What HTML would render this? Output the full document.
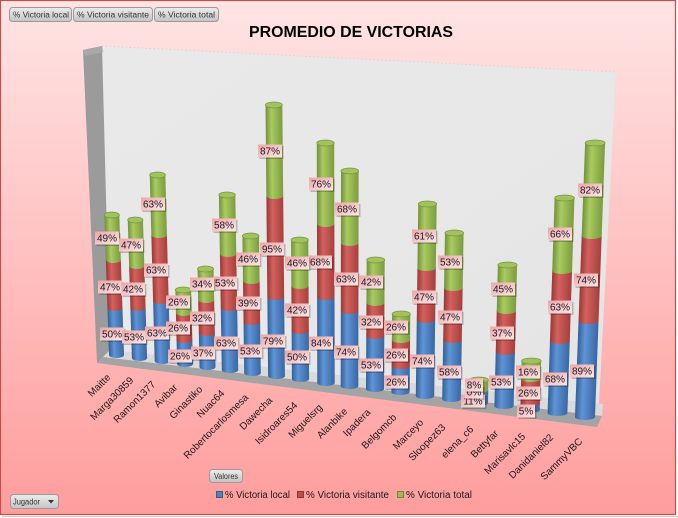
<!DOCTYPE html>
<html><head><meta charset="utf-8"><style>
html,body{margin:0;padding:0;background:#fff;}
svg{display:block;}
.b{fill:url(#gb)}.r{fill:url(#gr)}.g{fill:url(#gg)}
.t{fill:#a2c25d;stroke:#7a9640;stroke-width:0.8}
.lb{fill:url(#gl)}.sh{fill:#000;opacity:.22}
text{font-family:"Liberation Sans",Arial,sans-serif;}
.l{font-size:10px;fill:#1a1a28;text-anchor:middle}
.c{font-size:10px;fill:#1a1a1a;text-anchor:end}
.btn{fill:url(#gbtn);stroke:#9a9a9a;stroke-width:1}
.bt{font-size:8px;fill:#333}
.lg{font-size:10px;fill:#1a1a1a}
</style></head><body>
<svg width="678" height="518" viewBox="0 0 678 518" xmlns="http://www.w3.org/2000/svg">
<defs>
<linearGradient id="bg" x1="0" y1="0" x2="0" y2="1"><stop offset="0" stop-color="#ffe4e4"/><stop offset="1" stop-color="#ff9d9d"/></linearGradient>
<linearGradient id="gb" x1="0" y1="0" x2="1" y2="0"><stop offset="0" stop-color="#33609a"/><stop offset="0.35" stop-color="#5f94d6"/><stop offset="1" stop-color="#3a67a3"/></linearGradient>
<linearGradient id="gr" x1="0" y1="0" x2="1" y2="0"><stop offset="0" stop-color="#9b3835"/><stop offset="0.35" stop-color="#d2625e"/><stop offset="1" stop-color="#a63f3c"/></linearGradient>
<linearGradient id="gg" x1="0" y1="0" x2="1" y2="0"><stop offset="0" stop-color="#74913a"/><stop offset="0.35" stop-color="#a9cb60"/><stop offset="1" stop-color="#7c9b3f"/></linearGradient>
<linearGradient id="gl" x1="0" y1="0" x2="1" y2="1"><stop offset="0" stop-color="#eca5a5"/><stop offset="1" stop-color="#fde7e7"/></linearGradient>
<linearGradient id="gbtn" x1="0" y1="0" x2="0" y2="1"><stop offset="0" stop-color="#ececec"/><stop offset="1" stop-color="#c4c4c4"/></linearGradient>
<linearGradient id="gw" x1="0" y1="0" x2="1" y2="1"><stop offset="0" stop-color="#e9e9e9"/><stop offset="0.5" stop-color="#e8e8e8"/><stop offset="1" stop-color="#e4e4e4"/></linearGradient>
</defs>
<rect x="0" y="0" width="678" height="518" fill="#ffffff"/>
<line x1="2" y1="516.5" x2="678" y2="516.5" stroke="#cfcfcf" stroke-width="1.5"/>
<rect x="0.5" y="0.5" width="675" height="514" fill="url(#bg)" stroke="#c0504d" stroke-width="1.2"/>

<!-- title -->
<text x="249" y="37" font-size="16" font-weight="bold" fill="#000" textLength="204" lengthAdjust="spacingAndGlyphs">PROMEDIO DE VICTORIAS</text>

<!-- top buttons -->
<rect class="btn" x="9.5" y="7.5" width="62" height="14" rx="3"/>
<text class="bt" x="13" y="17.5" textLength="56" lengthAdjust="spacingAndGlyphs">% Victoria local</text>
<rect class="btn" x="73.5" y="7.5" width="79" height="14" rx="3"/>
<text class="bt" x="77" y="17.5" textLength="72" lengthAdjust="spacingAndGlyphs">% Victoria visitante</text>
<rect class="btn" x="154.5" y="7.5" width="64" height="14" rx="3"/>
<text class="bt" x="158" y="17.5" textLength="57" lengthAdjust="spacingAndGlyphs">% Victoria total</text>

<!-- walls and floor -->
<polygon points="102,46 616,72 599,404 110,350" fill="url(#gw)"/>
<polyline points="102,46 616,72" fill="none" stroke="#c8c8c8" stroke-width="0.8" stroke-dasharray="1,3"/>
<polygon points="83,50 102,46 110,350 103,357 97,363" fill="#9b9b9b"/>
<polygon points="83,50 102,46 103,52 85,56" fill="#a9a9a9"/>
<polygon points="110,350 603,404 602,416 103,357" fill="#dadada"/>
<polygon points="103,357 602,416 597,427 97,363" fill="#a4a4a4"/>

<!-- bars -->
<g transform="translate(116.5,355) skewX(1.92)"><rect class="b" x="-7.5" y="-47" width="15" height="47"/><ellipse class="b" rx="7.5" ry="3"/><rect class="r" x="-7.5" y="-95" width="15" height="48"/><ellipse class="r" cy="-47" rx="7.5" ry="3"/><rect class="g" x="-7.5" y="-140" width="15" height="45"/><ellipse class="g" cy="-95" rx="7.5" ry="3"/><ellipse class="t" cy="-140" rx="7.5" ry="3"/></g>
<g transform="translate(139.5,358) skewX(1.72)"><rect class="b" x="-7.6" y="-50" width="15.2" height="50"/><ellipse class="b" rx="7.6" ry="3"/><rect class="r" x="-7.6" y="-92" width="15.2" height="42"/><ellipse class="r" cy="-50" rx="7.6" ry="3"/><rect class="g" x="-7.6" y="-138" width="15.2" height="46"/><ellipse class="g" cy="-92" rx="7.6" ry="3"/><ellipse class="t" cy="-138" rx="7.6" ry="3"/></g>
<g transform="translate(162.5,361) skewX(1.53)"><rect class="b" x="-7.8" y="-60" width="15.6" height="60"/><ellipse class="b" rx="7.8" ry="3"/><rect class="r" x="-7.8" y="-126" width="15.6" height="66"/><ellipse class="r" cy="-60" rx="7.8" ry="3"/><rect class="g" x="-7.8" y="-186" width="15.6" height="60"/><ellipse class="g" cy="-126" rx="7.8" ry="3"/><ellipse class="t" cy="-186" rx="7.8" ry="3"/></g>
<g transform="translate(185,364) skewX(1.33)"><rect class="b" x="-7.9" y="-24" width="15.8" height="24"/><ellipse class="b" rx="7.9" ry="3"/><rect class="r" x="-7.9" y="-51" width="15.8" height="27"/><ellipse class="r" cy="-24" rx="7.9" ry="3"/><rect class="g" x="-7.9" y="-74" width="15.8" height="23"/><ellipse class="g" cy="-51" rx="7.9" ry="3"/><ellipse class="t" cy="-74" rx="7.9" ry="3"/></g>
<g transform="translate(207.5,367) skewX(1.14)"><rect class="b" x="-8" y="-34" width="16" height="34"/><ellipse class="b" rx="8" ry="3"/><rect class="r" x="-8" y="-67" width="16" height="33"/><ellipse class="r" cy="-34" rx="8" ry="3"/><rect class="g" x="-8" y="-98" width="16" height="31"/><ellipse class="g" cy="-67" rx="8" ry="3"/><ellipse class="t" cy="-98" rx="8" ry="3"/></g>
<g transform="translate(230,370) skewX(0.95)"><rect class="b" x="-8.2" y="-62" width="16.4" height="62"/><ellipse class="b" rx="8.2" ry="3"/><rect class="r" x="-8.2" y="-116" width="16.4" height="54"/><ellipse class="r" cy="-62" rx="8.2" ry="3"/><rect class="g" x="-8.2" y="-175" width="16.4" height="59"/><ellipse class="g" cy="-116" rx="8.2" ry="3"/><ellipse class="t" cy="-175" rx="8.2" ry="3"/></g>
<g transform="translate(252.5,373) skewX(0.75)"><rect class="b" x="-8.3" y="-51" width="16.6" height="51"/><ellipse class="b" rx="8.3" ry="3"/><rect class="r" x="-8.3" y="-92" width="16.6" height="41"/><ellipse class="r" cy="-51" rx="8.3" ry="3"/><rect class="g" x="-8.3" y="-137" width="16.6" height="45"/><ellipse class="g" cy="-92" rx="8.3" ry="3"/><ellipse class="t" cy="-137" rx="8.3" ry="3"/></g>
<g transform="translate(276.5,376) skewX(0.55)"><rect class="b" x="-8.4" y="-79" width="16.8" height="79"/><ellipse class="b" rx="8.4" ry="3"/><rect class="r" x="-8.4" y="-180" width="16.8" height="101"/><ellipse class="r" cy="-79" rx="8.4" ry="3"/><rect class="g" x="-8.4" y="-271" width="16.8" height="91"/><ellipse class="g" cy="-180" rx="8.4" ry="3"/><ellipse class="t" cy="-271" rx="8.4" ry="3"/></g>
<g transform="translate(300.5,379) skewX(0.34)"><rect class="b" x="-8.6" y="-48" width="17.2" height="48"/><ellipse class="b" rx="8.6" ry="3"/><rect class="r" x="-8.6" y="-93" width="17.2" height="45"/><ellipse class="r" cy="-48" rx="8.6" ry="3"/><rect class="g" x="-8.6" y="-139" width="17.2" height="46"/><ellipse class="g" cy="-93" rx="8.6" ry="3"/><ellipse class="t" cy="-139" rx="8.6" ry="3"/></g>
<g transform="translate(326,383) skewX(0.12)"><rect class="b" x="-8.7" y="-86" width="17.4" height="86"/><ellipse class="b" rx="8.7" ry="3"/><rect class="r" x="-8.7" y="-159" width="17.4" height="73"/><ellipse class="r" cy="-86" rx="8.7" ry="3"/><rect class="g" x="-8.7" y="-240" width="17.4" height="81"/><ellipse class="g" cy="-159" rx="8.7" ry="3"/><ellipse class="t" cy="-240" rx="8.7" ry="3"/></g>
<g transform="translate(349.5,386) skewX(-0.08)"><rect class="b" x="-8.8" y="-75" width="17.6" height="75"/><ellipse class="b" rx="8.8" ry="3"/><rect class="r" x="-8.8" y="-143" width="17.6" height="68"/><ellipse class="r" cy="-75" rx="8.8" ry="3"/><rect class="g" x="-8.8" y="-215" width="17.6" height="72"/><ellipse class="g" cy="-143" rx="8.8" ry="3"/><ellipse class="t" cy="-215" rx="8.8" ry="3"/></g>
<g transform="translate(375,389) skewX(-0.30)"><rect class="b" x="-9" y="-53" width="18" height="53"/><ellipse class="b" rx="9" ry="3"/><rect class="r" x="-9" y="-86" width="18" height="33"/><ellipse class="r" cy="-53" rx="9" ry="3"/><rect class="g" x="-9" y="-129" width="18" height="43"/><ellipse class="g" cy="-86" rx="9" ry="3"/><ellipse class="t" cy="-129" rx="9" ry="3"/></g>
<g transform="translate(400.5,392) skewX(-0.52)"><rect class="b" x="-9.1" y="-26" width="18.2" height="26"/><ellipse class="b" rx="9.1" ry="3"/><rect class="r" x="-9.1" y="-52" width="18.2" height="26"/><ellipse class="r" cy="-26" rx="9.1" ry="3"/><rect class="g" x="-9.1" y="-78" width="18.2" height="26"/><ellipse class="g" cy="-52" rx="9.1" ry="3"/><ellipse class="t" cy="-78" rx="9.1" ry="3"/></g>
<g transform="translate(425,396) skewX(-0.73)"><rect class="b" x="-9.2" y="-76" width="18.4" height="76"/><ellipse class="b" rx="9.2" ry="3"/><rect class="r" x="-9.2" y="-128" width="18.4" height="52"/><ellipse class="r" cy="-76" rx="9.2" ry="3"/><rect class="g" x="-9.2" y="-192" width="18.4" height="64"/><ellipse class="g" cy="-128" rx="9.2" ry="3"/><ellipse class="t" cy="-192" rx="9.2" ry="3"/></g>
<g transform="translate(451.5,399) skewX(-0.96)"><rect class="b" x="-9.3" y="-59" width="18.6" height="59"/><ellipse class="b" rx="9.3" ry="3"/><rect class="r" x="-9.3" y="-111" width="18.6" height="52"/><ellipse class="r" cy="-59" rx="9.3" ry="3"/><rect class="g" x="-9.3" y="-166" width="18.6" height="55"/><ellipse class="g" cy="-111" rx="9.3" ry="3"/><ellipse class="t" cy="-166" rx="9.3" ry="3"/></g>
<g transform="translate(478.5,403) skewX(-1.19)"><rect class="b" x="-9.5" y="-13" width="19" height="13"/><ellipse class="b" rx="9.5" ry="3"/><rect class="g" x="-9.5" y="-23" width="19" height="10"/><ellipse class="g" cy="-13" rx="9.5" ry="3"/><ellipse class="t" cy="-23" rx="9.5" ry="3"/></g>
<g transform="translate(504,406) skewX(-1.41)"><rect class="b" x="-9.6" y="-54" width="19.2" height="54"/><ellipse class="b" rx="9.6" ry="3"/><rect class="r" x="-9.6" y="-95" width="19.2" height="41"/><ellipse class="r" cy="-54" rx="9.6" ry="3"/><rect class="g" x="-9.6" y="-141" width="19.2" height="46"/><ellipse class="g" cy="-95" rx="9.6" ry="3"/><ellipse class="t" cy="-141" rx="9.6" ry="3"/></g>
<g transform="translate(530,410) skewX(-1.63)"><rect class="b" x="-9.7" y="-7" width="19.4" height="7"/><ellipse class="b" rx="9.7" ry="3"/><rect class="r" x="-9.7" y="-31" width="19.4" height="24"/><ellipse class="r" cy="-7" rx="9.7" ry="3"/><rect class="g" x="-9.7" y="-49" width="19.4" height="18"/><ellipse class="g" cy="-31" rx="9.7" ry="3"/><ellipse class="t" cy="-49" rx="9.7" ry="3"/></g>
<g transform="translate(557.5,413) skewX(-1.87)"><rect class="b" x="-9.9" y="-72" width="19.8" height="72"/><ellipse class="b" rx="9.9" ry="3"/><rect class="r" x="-9.9" y="-142" width="19.8" height="70"/><ellipse class="r" cy="-72" rx="9.9" ry="3"/><rect class="g" x="-9.9" y="-215" width="19.8" height="73"/><ellipse class="g" cy="-142" rx="9.9" ry="3"/><ellipse class="t" cy="-215" rx="9.9" ry="3"/></g>
<g transform="translate(585,417) skewX(-2.11)"><rect class="b" x="-10" y="-96" width="20" height="96"/><ellipse class="b" rx="10" ry="3"/><rect class="r" x="-10" y="-181" width="20" height="85"/><ellipse class="r" cy="-96" rx="10" ry="3"/><rect class="g" x="-10" y="-274" width="20" height="93"/><ellipse class="g" cy="-181" rx="10" ry="3"/><ellipse class="t" cy="-274" rx="10" ry="3"/></g>

<!-- data labels: blue series -->
<g><rect class="sh" x="101.5" y="329" width="24" height="13"/><rect class="lb" x="100" y="327.5" width="24" height="13"/><text class="l" x="112" y="337.5">50%</text></g>
<g><rect class="sh" x="123.5" y="332" width="24" height="13"/><rect class="lb" x="122" y="330.5" width="24" height="13"/><text class="l" x="134" y="340.5">53%</text></g>
<g><rect class="sh" x="146.5" y="328" width="24" height="13"/><rect class="lb" x="145" y="326.5" width="24" height="13"/><text class="l" x="157" y="336.5">63%</text></g>
<g><rect class="sh" x="169.5" y="351" width="24" height="13"/><rect class="lb" x="168" y="349.5" width="24" height="13"/><text class="l" x="180" y="359.5">26%</text></g>
<g><rect class="sh" x="192.5" y="348" width="24" height="13"/><rect class="lb" x="191" y="346.5" width="24" height="13"/><text class="l" x="203" y="356.5">37%</text></g>
<g><rect class="sh" x="215.5" y="338" width="24" height="13"/><rect class="lb" x="214" y="336.5" width="24" height="13"/><text class="l" x="226" y="346.5">63%</text></g>
<g><rect class="sh" x="239.5" y="346" width="24" height="13"/><rect class="lb" x="238" y="344.5" width="24" height="13"/><text class="l" x="250" y="354.5">53%</text></g>
<g><rect class="sh" x="262.5" y="336" width="24" height="13"/><rect class="lb" x="261" y="334.5" width="24" height="13"/><text class="l" x="273" y="344.5">79%</text></g>
<g><rect class="sh" x="286.5" y="352" width="24" height="13"/><rect class="lb" x="285" y="350.5" width="24" height="13"/><text class="l" x="297" y="360.5">50%</text></g>
<g><rect class="sh" x="310.5" y="338" width="24" height="13"/><rect class="lb" x="309" y="336.5" width="24" height="13"/><text class="l" x="321" y="346.5">84%</text></g>
<g><rect class="sh" x="335.5" y="347" width="24" height="13"/><rect class="lb" x="334" y="345.5" width="24" height="13"/><text class="l" x="346" y="355.5">74%</text></g>
<g><rect class="sh" x="360.5" y="360" width="24" height="13"/><rect class="lb" x="359" y="358.5" width="24" height="13"/><text class="l" x="371" y="368.5">53%</text></g>
<g><rect class="sh" x="385.5" y="377" width="24" height="13"/><rect class="lb" x="384" y="375.5" width="24" height="13"/><text class="l" x="396" y="385.5">26%</text></g>
<g><rect class="sh" x="411.5" y="356" width="24" height="13"/><rect class="lb" x="410" y="354.5" width="24" height="13"/><text class="l" x="422" y="364.5">74%</text></g>
<g><rect class="sh" x="438.5" y="367" width="24" height="13"/><rect class="lb" x="437" y="365.5" width="24" height="13"/><text class="l" x="449" y="375.5">58%</text></g>
<g><rect class="sh" x="462.5" y="396" width="24" height="13"/><rect class="lb" x="461" y="394.5" width="24" height="13"/><text class="l" x="473" y="404.5">11%</text></g>
<g><rect class="sh" x="490.5" y="377" width="24" height="13"/><rect class="lb" x="489" y="375.5" width="24" height="13"/><text class="l" x="501" y="385.5">53%</text></g>
<g><rect class="sh" x="518.5" y="406" width="18" height="13"/><rect class="lb" x="517" y="404.5" width="18" height="13"/><text class="l" x="526" y="414.5">5%</text></g>
<g><rect class="sh" x="544.5" y="374" width="24" height="13"/><rect class="lb" x="543" y="372.5" width="24" height="13"/><text class="l" x="555" y="382.5">68%</text></g>
<g><rect class="sh" x="571.5" y="366" width="24" height="13"/><rect class="lb" x="570" y="364.5" width="24" height="13"/><text class="l" x="582" y="374.5">89%</text></g>

<!-- data labels: red series -->
<g><rect class="sh" x="99.5" y="282" width="24" height="13"/><rect class="lb" x="98" y="280.5" width="24" height="13"/><text class="l" x="110" y="290.5">47%</text></g>
<g><rect class="sh" x="122.5" y="284" width="24" height="13"/><rect class="lb" x="121" y="282.5" width="24" height="13"/><text class="l" x="133" y="292.5">42%</text></g>
<g><rect class="sh" x="145.5" y="265" width="24" height="13"/><rect class="lb" x="144" y="263.5" width="24" height="13"/><text class="l" x="156" y="273.5">63%</text></g>
<g><rect class="sh" x="167.5" y="323" width="24" height="13"/><rect class="lb" x="166" y="321.5" width="24" height="13"/><text class="l" x="178" y="331.5">26%</text></g>
<g><rect class="sh" x="191.5" y="313" width="24" height="13"/><rect class="lb" x="190" y="311.5" width="24" height="13"/><text class="l" x="202" y="321.5">32%</text></g>
<g><rect class="sh" x="214.5" y="278" width="24" height="13"/><rect class="lb" x="213" y="276.5" width="24" height="13"/><text class="l" x="225" y="286.5">53%</text></g>
<g><rect class="sh" x="237.5" y="298" width="24" height="13"/><rect class="lb" x="236" y="296.5" width="24" height="13"/><text class="l" x="248" y="306.5">39%</text></g>
<g><rect class="sh" x="261.5" y="244" width="24" height="13"/><rect class="lb" x="260" y="242.5" width="24" height="13"/><text class="l" x="272" y="252.5">95%</text></g>
<g><rect class="sh" x="286.5" y="305" width="24" height="13"/><rect class="lb" x="285" y="303.5" width="24" height="13"/><text class="l" x="297" y="313.5">42%</text></g>
<g><rect class="sh" x="309.5" y="257" width="24" height="13"/><rect class="lb" x="308" y="255.5" width="24" height="13"/><text class="l" x="320" y="265.5">68%</text></g>
<g><rect class="sh" x="335.5" y="274" width="24" height="13"/><rect class="lb" x="334" y="272.5" width="24" height="13"/><text class="l" x="346" y="282.5">63%</text></g>
<g><rect class="sh" x="360.5" y="317" width="24" height="13"/><rect class="lb" x="359" y="315.5" width="24" height="13"/><text class="l" x="371" y="325.5">32%</text></g>
<g><rect class="sh" x="385.5" y="350" width="24" height="13"/><rect class="lb" x="384" y="348.5" width="24" height="13"/><text class="l" x="396" y="358.5">26%</text></g>
<g><rect class="sh" x="413.5" y="292" width="24" height="13"/><rect class="lb" x="412" y="290.5" width="24" height="13"/><text class="l" x="424" y="300.5">47%</text></g>
<g><rect class="sh" x="439.5" y="312" width="24" height="13"/><rect class="lb" x="438" y="310.5" width="24" height="13"/><text class="l" x="450" y="320.5">47%</text></g>
<g><rect class="sh" x="466.5" y="387" width="18" height="13"/><rect class="lb" x="465" y="385.5" width="18" height="13"/><text class="l" x="474" y="395.5">0%</text></g>
<g><rect class="sh" x="491.5" y="328" width="24" height="13"/><rect class="lb" x="490" y="326.5" width="24" height="13"/><text class="l" x="502" y="336.5">37%</text></g>
<g><rect class="sh" x="517.5" y="388" width="24" height="13"/><rect class="lb" x="516" y="386.5" width="24" height="13"/><text class="l" x="528" y="396.5">26%</text></g>
<g><rect class="sh" x="549.5" y="302" width="24" height="13"/><rect class="lb" x="548" y="300.5" width="24" height="13"/><text class="l" x="560" y="310.5">63%</text></g>
<g><rect class="sh" x="575.5" y="275" width="24" height="13"/><rect class="lb" x="574" y="273.5" width="24" height="13"/><text class="l" x="586" y="283.5">74%</text></g>

<!-- data labels: green series -->
<g><rect class="sh" x="96.5" y="233" width="24" height="13"/><rect class="lb" x="95" y="231.5" width="24" height="13"/><text class="l" x="107" y="241.5">49%</text></g>
<g><rect class="sh" x="120.5" y="240" width="24" height="13"/><rect class="lb" x="119" y="238.5" width="24" height="13"/><text class="l" x="131" y="248.5">47%</text></g>
<g><rect class="sh" x="142.5" y="199" width="24" height="13"/><rect class="lb" x="141" y="197.5" width="24" height="13"/><text class="l" x="153" y="207.5">63%</text></g>
<g><rect class="sh" x="167.5" y="297" width="24" height="13"/><rect class="lb" x="166" y="295.5" width="24" height="13"/><text class="l" x="178" y="305.5">26%</text></g>
<g><rect class="sh" x="191.5" y="279" width="24" height="13"/><rect class="lb" x="190" y="277.5" width="24" height="13"/><text class="l" x="202" y="287.5">34%</text></g>
<g><rect class="sh" x="213.5" y="220" width="24" height="13"/><rect class="lb" x="212" y="218.5" width="24" height="13"/><text class="l" x="224" y="228.5">58%</text></g>
<g><rect class="sh" x="237.5" y="254" width="24" height="13"/><rect class="lb" x="236" y="252.5" width="24" height="13"/><text class="l" x="248" y="262.5">46%</text></g>
<g><rect class="sh" x="259.5" y="146" width="24" height="13"/><rect class="lb" x="258" y="144.5" width="24" height="13"/><text class="l" x="270" y="154.5">87%</text></g>
<g><rect class="sh" x="286.5" y="258" width="24" height="13"/><rect class="lb" x="285" y="256.5" width="24" height="13"/><text class="l" x="297" y="266.5">46%</text></g>
<g><rect class="sh" x="310.5" y="179" width="24" height="13"/><rect class="lb" x="309" y="177.5" width="24" height="13"/><text class="l" x="321" y="187.5">76%</text></g>
<g><rect class="sh" x="336.5" y="204" width="24" height="13"/><rect class="lb" x="335" y="202.5" width="24" height="13"/><text class="l" x="347" y="212.5">68%</text></g>
<g><rect class="sh" x="360.5" y="277" width="24" height="13"/><rect class="lb" x="359" y="275.5" width="24" height="13"/><text class="l" x="371" y="285.5">42%</text></g>
<g><rect class="sh" x="385.5" y="322" width="24" height="13"/><rect class="lb" x="384" y="320.5" width="24" height="13"/><text class="l" x="396" y="330.5">26%</text></g>
<g><rect class="sh" x="413.5" y="231" width="24" height="13"/><rect class="lb" x="412" y="229.5" width="24" height="13"/><text class="l" x="424" y="239.5">61%</text></g>
<g><rect class="sh" x="439.5" y="257" width="24" height="13"/><rect class="lb" x="438" y="255.5" width="24" height="13"/><text class="l" x="450" y="265.5">53%</text></g>
<g><rect class="sh" x="466.5" y="380" width="18" height="13"/><rect class="lb" x="465" y="378.5" width="18" height="13"/><text class="l" x="474" y="388.5">8%</text></g>
<g><rect class="sh" x="492.5" y="284" width="24" height="13"/><rect class="lb" x="491" y="282.5" width="24" height="13"/><text class="l" x="503" y="292.5">45%</text></g>
<g><rect class="sh" x="517.5" y="367" width="24" height="13"/><rect class="lb" x="516" y="365.5" width="24" height="13"/><text class="l" x="528" y="375.5">16%</text></g>
<g><rect class="sh" x="549.5" y="229" width="24" height="13"/><rect class="lb" x="548" y="227.5" width="24" height="13"/><text class="l" x="560" y="237.5">66%</text></g>
<g><rect class="sh" x="579.5" y="185" width="24" height="13"/><rect class="lb" x="578" y="183.5" width="24" height="13"/><text class="l" x="590" y="193.5">82%</text></g>

<!-- category labels -->
<text class="c" transform="translate(111,378) rotate(-45)">Maitte</text>
<text class="c" transform="translate(134,381) rotate(-45)">Marga30859</text>
<text class="c" transform="translate(156,385) rotate(-45)">Ramon1377</text>
<text class="c" transform="translate(178,388) rotate(-45)">Avibar</text>
<text class="c" transform="translate(203,390) rotate(-45)">Ginastiko</text>
<text class="c" transform="translate(225,394) rotate(-45)">Nuac64</text>
<text class="c" transform="translate(249,398) rotate(-45)">Robertocarlosmesa</text>
<text class="c" transform="translate(273,401) rotate(-45)">Dawecha</text>
<text class="c" transform="translate(298,406) rotate(-45)">Isidroares54</text>
<text class="c" transform="translate(323,408) rotate(-45)">Miguelsrg</text>
<text class="c" transform="translate(348,412) rotate(-45)">Alanbike</text>
<text class="c" transform="translate(371,413) rotate(-45)">Ipadera</text>
<text class="c" transform="translate(397,418) rotate(-45)">Belgomcb</text>
<text class="c" transform="translate(424,423) rotate(-45)">Marceyo</text>
<text class="c" transform="translate(446,428) rotate(-45)">Sloopez63</text>
<text class="c" transform="translate(474,430) rotate(-45)">elena_c6</text>
<text class="c" transform="translate(499,434) rotate(-45)">Bettyfar</text>
<text class="c" transform="translate(526,437) rotate(-45)">Marisavlc15</text>
<text class="c" transform="translate(554,438) rotate(-45)">Danidaniel82</text>
<text class="c" transform="translate(583,442) rotate(-45)">SammyVBC</text>

<!-- Valores button -->
<rect class="btn" x="209.5" y="469.5" width="33" height="13" rx="3"/>
<text class="bt" x="214" y="479" textLength="24" lengthAdjust="spacingAndGlyphs">Valores</text>

<!-- legend -->
<rect x="216.5" y="491.5" width="6" height="6" fill="#4f81bd" stroke="#385d8a" stroke-width="1"/>
<text class="lg" x="225" y="498" textLength="65" lengthAdjust="spacingAndGlyphs">% Victoria local</text>
<rect x="297.5" y="491.5" width="6" height="6" fill="#c0504d" stroke="#8c3836" stroke-width="1"/>
<text class="lg" x="306" y="498" textLength="83" lengthAdjust="spacingAndGlyphs">% Victoria visitante</text>
<rect x="397.5" y="491.5" width="6" height="6" fill="#9bbb59" stroke="#71893f" stroke-width="1"/>
<text class="lg" x="406" y="498" textLength="66" lengthAdjust="spacingAndGlyphs">% Victoria total</text>

<!-- Jugador button -->
<rect class="btn" x="10.5" y="494.5" width="48" height="14" rx="3"/>
<text class="bt" x="13" y="504.5" textLength="27" lengthAdjust="spacingAndGlyphs">Jugador</text>
<polygon points="48,500 54,500 51,503.5" fill="#333"/>
</svg>
</body></html>
